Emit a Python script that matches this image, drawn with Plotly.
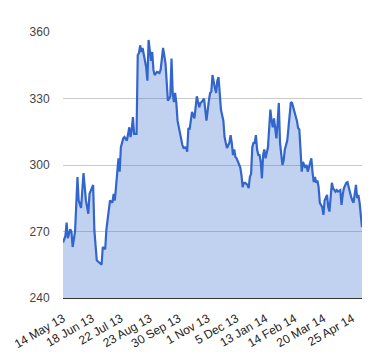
import plotly.graph_objects as go

day_index = [0, 2, 3, 4, 6, 7, 8, 10, 12, 13, 15, 17, 19, 21, 22, 24, 25, 26, 28, 30, 32, 33, 35, 36, 38, 39,
             41, 42, 43, 45, 46, 47, 48, 50, 51, 53, 55, 56, 57, 58, 59, 61, 62, 63, 64, 65, 66, 68, 69, 70,
             71, 73, 74, 75, 76, 78, 80, 81, 83, 85, 86, 87, 89, 90, 91, 92, 93, 94, 95, 97, 98, 99, 100, 102,
             103, 104, 105, 107, 109, 110, 111, 113, 114, 115, 117, 118, 119, 121, 122, 123, 124, 126, 127,
             128, 129, 130, 131, 133, 134, 135, 136, 138, 139, 140, 141, 142, 143, 144, 146, 147, 148, 149,
             150, 151, 153, 154, 155, 156, 157, 158, 159, 160, 161, 162, 163, 164, 165, 166, 167, 168, 170,
             172, 173, 174, 175, 176, 177, 178, 179, 180, 182, 183, 184, 186, 187, 188, 189, 190, 191, 192,
             194, 195, 196, 197, 198, 199, 201, 202, 203, 204, 205, 206, 207, 208, 209, 210, 211, 212, 213,
             215, 216, 217, 219, 220, 221, 222, 223, 224, 226, 227, 228, 230, 231, 232, 233, 235, 236, 237,
             238, 239, 240, 241, 243, 244, 245, 246, 248]
values = [265, 268, 274, 267, 271, 270, 263, 270, 294.6, 284, 280.6, 296.4, 284, 278, 287, 290, 291, 270.7,
          257, 256, 255, 263, 262, 271, 280, 284,
          283, 287, 284, 296, 303, 297, 308, 312, 312.6, 311, 317, 312.6, 316, 321.6, 314, 314, 349.6, 350.5,
          354, 351, 352.8, 347, 344, 338,
          356.4, 347, 351, 343, 340.6, 342, 341.5, 343, 352.8, 346, 338, 329, 331, 348, 332.5, 328.4, 332.5,
          328, 320, 314, 312.6, 309, 307.7, 308,
          306, 316.7, 316, 324, 321, 327, 331, 326, 328, 328.4, 330, 325, 320, 329, 332.5, 333, 340.6, 334.7,
          332.5,
          338, 339.7, 332.5, 325, 320, 312.6, 310, 307.7, 310, 313.5, 310, 304.5, 307, 303.6, 303, 300, 299,
          295.5,
          290, 292, 292, 291, 289.6, 294.6, 296, 308, 310, 310, 313.5, 307, 304.5, 304.5, 301.4, 294, 304.5,
          307, 303, 308,
          325, 320, 317, 321, 316.7, 312, 319, 328, 310, 300, 302, 307, 311, 317, 325, 328.4, 328, 326, 324,
          320, 316.7, 316, 307, 297, 301.4, 298.7, 300, 297, 299, 301.4, 303, 296.4, 292.3, 294.6, 292, 293,
          290, 283,
          281, 277.5, 284, 286.5, 281, 279, 288, 292, 289.6, 288, 288.7, 288, 288.7, 282, 286.5, 289.6, 292,
          292.3, 290,
          287.4, 285.6, 284, 283, 291, 285, 286.5, 283, 272]

tick_positions = [0, 24, 48, 72, 96, 120, 144, 168, 192, 216, 240]
tick_labels = ["14 May 13", "18 Jun 13", "22 Jul 13", "23 Aug 13", "30 Sep 13", "1 Nov 13",
               "5 Dec 13", "13 Jan 14", "14 Feb 14", "20 Mar 14", "25 Apr 14"]
y_ticks = [240, 270, 300, 330, 360]

fig = go.Figure()
fig.add_trace(go.Scatter(
    x=day_index, y=values, mode="lines",
    line=dict(color="#3366cc", width=2.2),
    fill="tozeroy", fillcolor="rgba(51,102,204,0.3)",
    hoverinfo="skip", showlegend=False,
))

fig.update_layout(
    width=364, height=344,
    margin=dict(l=55, r=10, t=24, b=54),
    paper_bgcolor="white", plot_bgcolor="white",
    font=dict(family="Arial, Liberation Sans, sans-serif", size=12, color="#444"),
    xaxis=dict(
        range=[0, 248], tickmode="array", tickvals=tick_positions, ticktext=tick_labels,
        tickangle=-30, showgrid=False, zeroline=False, automargin=False,
        showline=True, linecolor="#333", linewidth=1,
        ticks="outside", ticklen=8, tickcolor="rgba(0,0,0,0)",
        tickfont=dict(size=12, color="#222"),
    ),
    yaxis=dict(
        range=[240, 360], tickmode="array", tickvals=y_ticks, automargin=False,
        showgrid=True, gridcolor="#cccccc", gridwidth=1, zeroline=False,
        ticks="outside", ticklen=10, tickcolor="rgba(0,0,0,0)",
        tickfont=dict(size=12, color="#444"),
    ),
)

fig.write_html("out.html")
